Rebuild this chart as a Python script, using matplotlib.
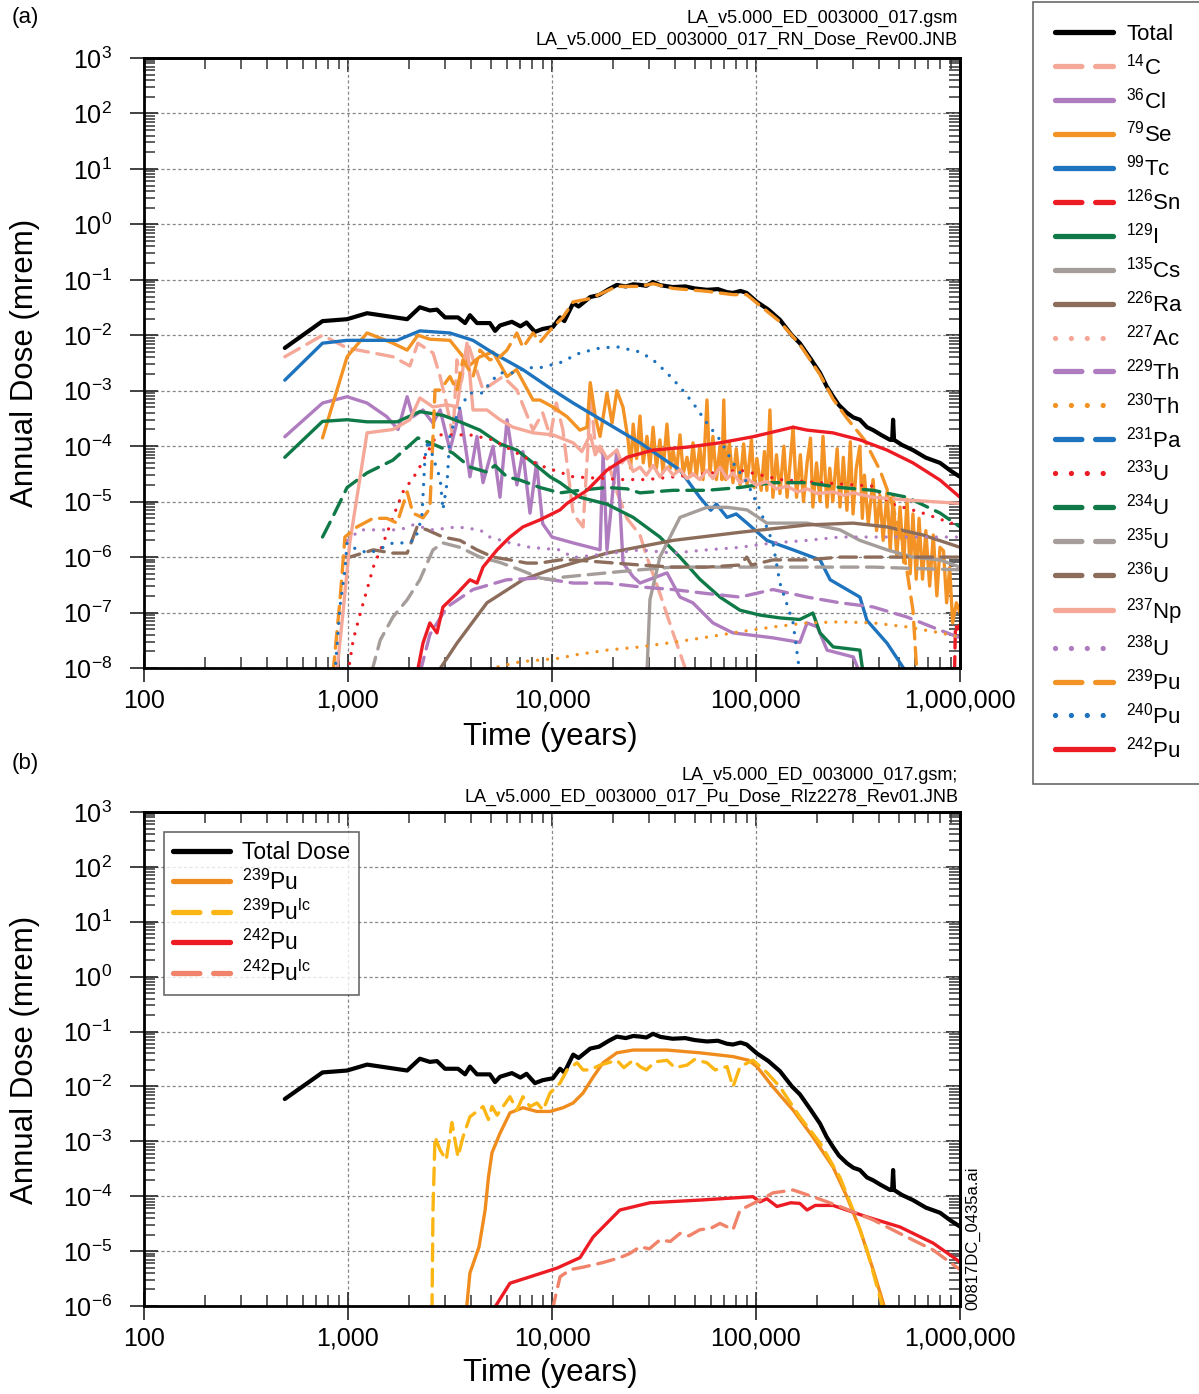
import numpy as np
import matplotlib
matplotlib.use('Agg')
import matplotlib.pyplot as plt
from matplotlib.ticker import LogLocator, NullFormatter, FuncFormatter

plt.rcParams['font.family'] = ['Liberation Sans', 'DejaVu Sans']
plt.rcParams['mathtext.fontset'] = 'custom'
plt.rcParams['mathtext.rm'] = 'Liberation Sans'
plt.rcParams['mathtext.it'] = 'Liberation Sans:italic'
plt.rcParams['mathtext.bf'] = 'Liberation Sans:bold'

# ---------------- dados (anos, mrem) ----------------
total = [(490, 5.9e-3), (750, 1.8e-2), (990, 1.95e-2), (1240, 2.5e-2), (1950, 1.95e-2), (2250, 3.2e-2),
         (2520, 2.8e-2), (2730, 2.9e-2), (2990, 2.1e-2), (3460, 2.1e-2), (3750, 1.66e-2), (3960, 2.3e-2),
         (4290, 1.66e-2), (4960, 1.66e-2), (5260, 1.2e-2), (5560, 1.5e-2), (6360, 1.75e-2), (7000, 1.45e-2),
         (7500, 1.7e-2), (8250, 1.15e-2), (9000, 1.3e-2), (10100, 1.41e-2), (10950, 2.1e-2), (11500, 1.8e-2),
         (12700, 3.8e-2), (13500, 3.3e-2), (15400, 4.9e-2), (17000, 5.3e-2), (19000, 6.8e-2), (20800, 8.1e-2),
         (23000, 7.6e-2), (25000, 8.3e-2), (27000, 8.1e-2), (29000, 7.8e-2), (31300, 9.1e-2), (34000, 8.0e-2),
         (39000, 7.4e-2), (45000, 7.6e-2), (50000, 7.0e-2), (57500, 6.6e-2), (65000, 6.8e-2), (72000, 6.0e-2),
         (77000, 5.8e-2), (84000, 6.3e-2), (90000, 5.8e-2), (101000, 4.0e-2), (115000, 2.9e-2), (131000, 1.9e-2),
         (150000, 1.0e-2), (164000, 7.2e-3), (185000, 3.8e-3), (206000, 2.1e-3), (222000, 1.2e-3),
         (239000, 7.8e-4), (255000, 5.5e-4), (279000, 4.0e-4), (300000, 3.3e-4), (323000, 3.0e-4),
         (350000, 2.2e-4), (375000, 1.95e-4), (410000, 1.6e-4), (454000, 1.3e-4), (465000, 1.3e-4),
         (470000, 3.0e-4), (475000, 1.3e-4), (520000, 1.05e-4), (588000, 8.5e-5), (680000, 6.2e-5),
         (798000, 5.0e-5), (900000, 3.6e-5), (1000000, 2.8e-5)]

c14 = [(490, 4.1e-3), (750, 1.0e-2), (990, 5.9e-3), (1660, 4.1e-3), (2010, 2.8e-3), (2200, 7.2e-3),
       (2610, 4.8e-3), (2830, 1.8e-3), (3060, 5.1e-4), (3270, 1.5e-4), (3420, 3.6e-3), (3600, 1.5e-3),
       (3870, 7.2e-3), (4590, 1.03e-3), (5750, 1.8e-3), (6730, 1.03e-3), (8070, 1.95e-4), (9000, 4e-4),
       (9800, 1.5e-4), (10500, 6e-4), (11300, 2e-4), (12700, 6e-6), (14200, 3.5e-6), (15000, 1e-4),
       (15400, 1.0e-3), (16300, 1e-4), (18600, 6e-5), (20800, 1.5e-5), (23300, 5e-6), (27000, 2.5e-6),
       (29200, 1.0e-6), (33800, 2.2e-7), (39200, 4.3e-8), (45900, 8e-9)]

cl36 = [(490, 1.48e-4), (750, 6.0e-4), (990, 7.8e-4), (1240, 6.0e-4), (1550, 3.4e-4), (1760, 2.0e-4),
        (1950, 7.8e-4), (2080, 3.4e-4), (2330, 4.5e-4), (2610, 2.6e-4), (2830, 4.5e-4), (3160, 8.5e-5),
        (3540, 4.5e-4), (3960, 2.8e-5), (4290, 1.5e-4), (4590, 2.2e-5), (5140, 1.0e-4), (5560, 1.2e-5),
        (6020, 3.0e-4), (6730, 2.0e-5), (7200, 8e-5), (7800, 6.2e-6), (8400, 5e-5), (9000, 4e-6),
        (10000, 2.3e-6), (12700, 1.8e-6), (17200, 1.35e-6), (17800, 7.5e-5), (18600, 1.35e-6),
        (20800, 8.5e-5), (22300, 7.8e-7), (25000, 4.4e-7), (27000, 3.4e-7), (36600, 5.2e-7), (42400, 1.9e-7),
        (49000, 1.5e-7), (61500, 6.5e-8), (77000, 4.3e-8), (121000, 3.5e-8), (164000, 2.9e-8),
        (178000, 6.5e-8), (200000, 5.5e-8), (223000, 2.1e-8), (300000, 1.58e-8), (323000, 8e-9)]

se79 = [(750, 1.41e-4), (990, 4.1e-3), (1240, 1.1e-2), (1660, 7.2e-3), (1950, 5.4e-3), (2200, 1.0e-2),
        (2520, 8.5e-3), (3160, 8.1e-3), (3960, 2.9e-3), (4430, 4.1e-3), (5140, 5.0e-3), (6015, 1.8e-3),
        (6700, 2.4e-3), (8070, 6.8e-4), (8735, 6.8e-4), (10100, 5.1e-4), (11850, 3.4e-4), (13700, 1.95e-4),
        (14850, 2.2e-4), (15400, 1.4e-3), (16300, 3.4e-4), (17200, 1.5e-4), (18600, 9.1e-4), (19700, 2.6e-4),
        (20800, 1.0e-3), (22300, 5.0e-4), (23600, 1.3e-4), (24300, 4e-5), (25000, 2.5e-4), (26000, 6e-5),
        (27000, 3.5e-4), (28000, 5e-5), (29200, 1.5e-4), (30200, 4.2e-5), (31300, 2.2e-4), (32500, 4e-5),
        (33800, 1.3e-4), (35000, 3.5e-5), (36600, 2.5e-4), (38000, 4e-5), (39200, 8.5e-5), (40800, 3.5e-5),
        (42400, 1.6e-4), (44000, 3.2e-5), (45900, 6.3e-5), (47500, 2.8e-5), (49100, 1.15e-4), (51000, 2.8e-5),
        (53000, 1.0e-4), (55000, 2.5e-5), (57500, 6.8e-4), (59500, 3e-5), (61500, 1.5e-4), (64000, 2.5e-5),
        (66600, 1e-4), (68000, 2.5e-5), (69500, 6.8e-4), (71000, 2.5e-5), (74000, 1.2e-4), (77100, 2.2e-5),
        (80000, 9e-5), (83500, 2e-5), (87000, 1.1e-4), (90400, 2e-5), (93000, 6e-5), (95000, 1.3e-4),
        (98000, 1.8e-5), (101000, 6e-5), (106000, 1.6e-5), (110000, 8e-5), (113000, 1.6e-5), (117000, 4.5e-4),
        (121000, 1.2e-5), (126000, 7e-5), (131000, 1.4e-5), (137000, 1e-4), (142000, 1.2e-5), (147000, 5e-5),
        (152000, 2.2e-4), (158000, 1.2e-5), (165000, 7e-5), (171000, 1e-5), (178000, 5e-5), (185000, 1.4e-4),
        (190000, 8e-6), (198000, 5e-5), (206000, 1.0e-5), (213000, 1.5e-4), (223000, 8e-6), (230000, 4e-5),
        (238000, 1.0e-5), (250000, 9e-5), (258000, 8e-6), (268000, 6.3e-5), (279000, 7e-6), (290000, 1.2e-4),
        (299000, 6e-6), (310000, 4e-5), (323000, 1.0e-4), (332000, 5e-6), (340000, 3e-5), (355000, 4e-6),
        (375000, 2.5e-5), (390000, 3e-6), (405000, 1.3e-5), (420000, 2e-6), (439000, 1.5e-5), (455000, 1.3e-6),
        (470000, 1.3e-5), (490000, 1e-6), (508000, 8e-6), (530000, 8e-7), (550000, 1.1e-5), (570000, 5e-7),
        (588000, 6e-6), (610000, 4e-7), (630000, 5e-6), (655000, 4e-7), (680000, 3e-6), (710000, 3e-7),
        (740000, 2.5e-6), (770000, 2e-7), (798000, 1.5e-6), (830000, 1.3e-6), (860000, 1.5e-7),
        (890000, 6.5e-7), (920000, 6.5e-8), (960000, 1.5e-7), (1000000, 1.0e-7)]

tc99 = [(490, 1.55e-3), (750, 7.2e-3), (990, 8.1e-3), (1740, 8.1e-3), (2250, 1.2e-2), (3160, 1.1e-2),
        (4100, 8.1e-3), (5140, 4.8e-3), (7200, 2.4e-3), (10100, 1.03e-3), (12700, 6.0e-4), (18600, 2.6e-4),
        (27000, 1.15e-4), (42400, 3.7e-5), (53000, 1.2e-5), (60000, 7e-6), (64000, 9e-6), (72100, 5.2e-6),
        (80000, 6e-6), (90400, 4.1e-6), (113000, 2.0e-6), (152000, 1.35e-6), (206000, 8.9e-7),
        (231000, 3.9e-7), (323000, 1.9e-7), (350000, 7.2e-8), (439000, 2.8e-8), (550000, 8e-9)]

sn126 = [(940000, 8e-9), (950000, 6e-8), (970000, 5e-8), (1000000, 6e-8)]

i129 = [(490, 6.3e-5), (750, 2.8e-4), (990, 3.0e-4), (1240, 2.75e-4), (1740, 2.75e-4), (2250, 4.2e-4),
        (2920, 3.6e-4), (3540, 2.75e-4), (4430, 1.95e-4), (5560, 1.1e-4), (6730, 8.5e-5), (8070, 5.0e-5),
        (9780, 2.8e-5), (10950, 2.2e-5), (13700, 1.2e-5), (18600, 9e-6), (25000, 5.2e-6), (33800, 2.3e-6),
        (42400, 1.0e-6), (53000, 4e-7), (66600, 1.9e-7), (83500, 1.1e-7), (104600, 9e-8), (131000, 8e-8),
        (164000, 7.5e-8), (190000, 9.8e-8), (206000, 4.3e-8), (239000, 2.4e-8), (323000, 2.1e-8),
        (335000, 8e-9)]

cs135 = [(29200, 8e-9), (30200, 1.7e-7), (33800, 1.0e-6), (42400, 5.2e-6), (57500, 7.9e-6), (72100, 7.9e-6),
         (90400, 7.1e-6), (113000, 4.1e-6), (178000, 4.1e-6), (258000, 3.1e-6), (323000, 2.0e-6),
         (439000, 1.35e-6), (588000, 1.0e-6), (798000, 8.9e-7), (1000000, 6.6e-7)]

ra226 = [(2730, 8e-9), (3420, 2.8e-8), (4800, 1.5e-7), (7200, 3.9e-7), (9780, 5.9e-7), (18600, 1.18e-6),
         (39200, 2.0e-6), (83500, 2.8e-6), (178000, 3.8e-6), (299000, 4.1e-6), (439000, 3.5e-6),
         (659000, 2.5e-6), (1000000, 1.5e-6)]

ac227 = []

th229 = [(2250, 8e-9), (2520, 4e-8), (3060, 1.26e-7), (4100, 2.6e-7), (6000, 3.9e-7), (8700, 4.2e-7),
         (12700, 3.4e-7), (18600, 3.4e-7), (27000, 2.9e-7), (39200, 2.6e-7), (57500, 2.2e-7), (83500, 1.9e-7),
         (121000, 2.6e-7), (178000, 1.9e-7), (258000, 1.5e-7), (375000, 1.26e-7), (550000, 8.3e-8),
         (800000, 4.8e-8), (1000000, 3.5e-8)]

th230 = [(5440, 1.05e-8), (7000, 1.3e-8), (10950, 1.5e-8), (12700, 1.7e-8), (18600, 2.1e-8), (27000, 2.4e-8),
         (39200, 2.9e-8), (57500, 3.6e-8), (83500, 4.5e-8), (121000, 5.5e-8), (178000, 6.5e-8),
         (258000, 6.8e-8), (375000, 6.5e-8), (550000, 5.5e-8), (800000, 4.3e-8), (1000000, 3.6e-8)]

pa231 = []

u233 = [(1000, 8e-9), (1060, 3.2e-8), (1150, 9.8e-8), (1240, 2.6e-7), (1330, 6.6e-7), (1490, 1.8e-6),
        (1660, 5.2e-6), (1860, 1.5e-5), (2180, 3.4e-5), (2440, 7.5e-5), (2730, 1.6e-4), (3160, 1.6e-4),
        (3960, 1.6e-4), (5140, 1.3e-4), (6730, 7.5e-5), (8735, 4.5e-5), (12700, 2.8e-5), (22300, 2.5e-5),
        (29200, 2.5e-5), (83500, 3.7e-5), (131000, 2.5e-5), (206000, 2.2e-5), (375000, 1.9e-5),
        (454000, 9.3e-6), (659000, 6.2e-6), (924000, 4.0e-6), (1000000, 3.5e-6)]

u234 = [(750, 2.3e-6), (840, 5.2e-6), (990, 1.8e-5), (1240, 3.3e-5), (1660, 5.6e-5), (2200, 1.41e-4),
        (2520, 1.15e-4), (2830, 9.6e-5), (3270, 7.5e-5), (3960, 4.2e-5), (4800, 3.4e-5), (5250, 4.5e-5),
        (6015, 2.8e-5), (6960, 2.45e-5), (8735, 1.8e-5), (10950, 1.44e-5), (13700, 1.6e-5), (18600, 1.8e-5),
        (23300, 1.7e-5), (27000, 1.44e-5), (39200, 1.6e-5), (57500, 1.6e-5), (83500, 1.8e-5),
        (121000, 2.2e-5), (178000, 2.2e-5), (258000, 1.8e-5), (375000, 1.6e-5), (550000, 1.2e-5),
        (800000, 6.2e-6), (1000000, 3.5e-6)]

u235 = [(1300, 8e-9), (1440, 3.2e-8), (1660, 8.3e-8), (1950, 1.7e-7), (2250, 3.9e-7), (2610, 1.35e-6),
        (2920, 1.8e-6), (3540, 1.5e-6), (4430, 1.0e-6), (5560, 8e-7), (6960, 5.9e-7), (8735, 4.2e-7),
        (10100, 3.9e-7), (10950, 4.3e-7), (18600, 5.2e-7), (27000, 5.9e-7), (39200, 6.6e-7), (83500, 6.6e-7),
        (178000, 6.6e-7), (375000, 6.6e-7), (550000, 6.3e-7), (1000000, 5.9e-7)]

u236 = [(950, 1.0e-6), (1020, 1.0e-6), (1330, 1.35e-6), (1660, 1.18e-6), (1950, 1.18e-6), (2180, 3.5e-6),
        (2440, 3.1e-6), (2920, 2.3e-6), (3540, 2.0e-6), (4290, 1.35e-6), (5140, 1.0e-6), (6220, 8.9e-7),
        (7530, 7.8e-7), (8735, 7.8e-7), (10950, 8.9e-7), (12700, 8.9e-7), (27000, 7.2e-7), (39200, 6.6e-7),
        (57500, 6.6e-7), (83500, 7.2e-7), (90000, 1.0e-6), (95000, 7.2e-7), (121000, 8.9e-7),
        (178000, 8.9e-7), (258000, 1.0e-6), (1000000, 1.0e-6)]

np237 = [(880, 8e-9), (945, 1.0e-7), (1020, 1.8e-6), (1240, 1.74e-4), (1660, 2.0e-4), (2010, 3.0e-4),
         (2250, 7.4e-4), (2610, 5.1e-4), (3060, 5.6e-4), (3420, 5.1e-4), (3540, 1.17e-3), (3830, 7.2e-3),
         (4100, 4.5e-4), (4800, 4.5e-4), (5560, 3.0e-4), (6440, 2.2e-4), (8070, 1.74e-4), (10100, 1.6e-4),
         (12700, 1.15e-4), (14000, 8e-5), (15400, 1.6e-4), (16300, 7e-5), (17200, 1.0e-4), (18600, 6e-5),
         (20800, 8.5e-5), (22000, 5e-5), (23300, 6.3e-5), (25000, 3.5e-5), (27000, 4.2e-5), (29000, 3e-5),
         (31300, 4.5e-5), (33800, 2.8e-5), (36600, 4.2e-5), (39200, 3e-5), (42400, 3.8e-5), (45900, 2.6e-5),
         (49000, 3.2e-5), (53000, 2.5e-5), (57500, 3.7e-5), (61500, 2.6e-5), (66600, 4.2e-5), (72100, 2.6e-5),
         (77100, 3.3e-5), (83500, 2.2e-5), (90400, 2.6e-5), (100000, 2e-5), (113000, 2.3e-5), (126000, 1.7e-5),
         (142000, 1.9e-5), (160000, 1.5e-5), (178000, 1.7e-5), (200000, 1.4e-5), (239000, 1.5e-5),
         (270000, 1.3e-5), (300000, 1.44e-5), (375000, 1.2e-5), (550000, 1.07e-5), (798000, 9.8e-6),
         (1000000, 9.3e-6)]

u238 = [(990, 2.0e-6), (1150, 3.1e-6), (1440, 3.1e-6), (1800, 3.1e-6), (2080, 3.8e-6), (2610, 3.1e-6),
        (3420, 3.5e-6), (4430, 3.1e-6), (4960, 2.3e-6), (6220, 1.8e-6), (7800, 1.5e-6), (10950, 1.35e-6),
        (12700, 9.8e-7), (27000, 1.35e-6), (39200, 1.18e-6), (57500, 1.35e-6), (83500, 1.5e-6),
        (121000, 1.8e-6), (178000, 2.0e-6), (258000, 2.3e-6), (375000, 2.3e-6), (1000000, 2.3e-6)]

pu239 = [(844, 8e-9), (914, 1.7e-7), (966, 2.3e-6), (1107, 3.5e-6), (1327, 5.0e-6), (1550, 5.0e-6),
         (1740, 4.1e-6), (1950, 1.5e-5), (2080, 6.2e-6), (2330, 5.1e-6), (2520, 7.5e-6), (2610, 1.48e-4),
         (2670, 1.03e-3), (2830, 1.03e-3), (3160, 1.8e-3), (3420, 1.0e-3), (3660, 3.6e-3), (4100, 1.8e-3),
         (4430, 5.4e-3), (4960, 3.6e-3), (5560, 4.1e-3), (6015, 5.4e-3), (6730, 1.1e-2), (7200, 6e-3),
         (8070, 1.1e-2), (8735, 7.5e-3), (10100, 1.41e-2), (11300, 2.1e-2), (12700, 4.0e-2), (15400, 4.6e-2),
         (20800, 7.6e-2), (27000, 7.6e-2), (31300, 8.5e-2), (39200, 7.0e-2), (57500, 6.2e-2), (77100, 5.4e-2),
         (90000, 5.4e-2), (101000, 3.8e-2), (131000, 1.75e-2), (164000, 6.8e-3), (206000, 1.95e-3),
         (239000, 7.0e-4), (279000, 3.2e-4), (340000, 1.3e-4), (405000, 3.7e-5), (454000, 1.2e-5),
         (508000, 2.8e-6), (550000, 5.5e-7), (588000, 1.1e-7), (615000, 8e-9)]

pu240 = [(863, 8e-9), (893, 4.3e-8), (914, 1.3e-7), (966, 5.9e-7), (989, 1.8e-6), (1107, 1.35e-6),
         (1280, 1.18e-6), (1490, 1.5e-6), (1660, 1.8e-6), (1860, 1.8e-6), (2130, 2.0e-6), (2300, 5.2e-6),
         (2330, 1.2e-5), (2385, 6.3e-5), (2470, 1.3e-4), (2610, 6.3e-5), (2830, 2.6e-5), (2920, 7.1e-6),
         (3060, 2.2e-5), (3160, 1.6e-4), (3540, 5.1e-4), (3960, 9.1e-4), (4590, 9.1e-4), (4960, 1.4e-3),
         (5560, 2.1e-3), (6440, 2.1e-3), (7530, 2.6e-3), (8735, 2.6e-3), (10950, 3.2e-3), (13700, 4.8e-3),
         (17200, 5.9e-3), (20800, 6.2e-3), (27000, 5.0e-3), (31300, 3.6e-3), (36600, 2.1e-3),
         (42400, 1.17e-3), (49100, 6.0e-4), (57500, 2.6e-4), (66600, 1.3e-4), (77100, 5.0e-5),
         (90400, 2.2e-5), (104600, 7.1e-6), (121000, 1.8e-6), (131000, 3.4e-7), (152000, 6.5e-8),
         (164000, 8e-9)]

pu242 = [(2180, 8e-9), (2330, 2.8e-8), (2520, 6.5e-8), (2730, 4.3e-8), (2920, 1.26e-7), (3420, 2.2e-7),
         (3960, 3.9e-7), (4290, 3.4e-7), (4590, 6.6e-7), (5380, 1.35e-6), (6220, 2.3e-6), (7200, 3.5e-6),
         (8735, 4.7e-6), (10950, 7.1e-6), (11850, 9.3e-6), (14850, 1.6e-5), (18600, 3.7e-5), (23300, 6.3e-5),
         (31300, 8.5e-5), (45900, 9.6e-5), (66600, 1.15e-4), (96600, 1.48e-4), (121000, 1.8e-4),
         (152000, 2.2e-4), (178000, 1.95e-4), (238000, 1.74e-4), (323000, 1.3e-4), (439000, 8.5e-5),
         (588000, 5.0e-5), (798000, 2.45e-5), (1000000, 1.2e-5)]

# painel (b)
b_pu239 = [(3800, 8e-7), (3960, 4.0e-6), (4390, 1.2e-5), (4700, 5.6e-5), (4880, 2.2e-4), (5080, 6.2e-4),
           (5560, 1.4e-3), (6220, 3.3e-3), (7200, 4.1e-3), (8440, 3.5e-3), (9780, 3.5e-3), (11330, 4.1e-3),
           (12700, 5.0e-3), (14200, 7.6e-3), (15900, 1.48e-2), (17800, 2.7e-2), (20800, 4.1e-2),
           (25000, 4.6e-2), (36600, 4.6e-2), (53000, 4.1e-2), (77100, 3.5e-2), (92000, 3.0e-2),
           (101000, 2.3e-2), (121000, 9.8e-3), (152000, 3.7e-3), (190000, 1.2e-3), (238500, 3.4e-4),
           (279000, 9.8e-5), (323000, 2.5e-5), (375000, 4.6e-6), (420000, 1.15e-6), (430000, 8e-7)]

b_pu239lc = [(2580, 8e-7), (2610, 5.6e-5), (2670, 1.2e-3), (2830, 6.9e-4), (3030, 4.6e-4), (3230, 2.2e-3),
             (3460, 5.2e-4), (3660, 1.2e-3), (3960, 2.8e-3), (4590, 4.3e-3), (4880, 2.5e-3), (5080, 4.3e-3),
             (5380, 3.0e-3), (6220, 6.5e-3), (6730, 3.7e-3), (7200, 6.5e-3), (7800, 4.3e-3), (8440, 5.0e-3),
             (9040, 3.7e-3), (9780, 7.6e-3), (10950, 1.15e-2), (11850, 2.0e-2), (13270, 2.7e-2),
             (14200, 2.0e-2), (15400, 2.0e-2), (17200, 2.45e-2), (20800, 3.0e-2), (22500, 2.2e-2),
             (25000, 3.0e-2), (27000, 2.3e-2), (29000, 2.0e-2), (32000, 2.8e-2), (36600, 3.0e-2),
             (40000, 2.2e-2), (45900, 2.45e-2), (50000, 3.1e-2), (57500, 2.7e-2), (63000, 2.0e-2),
             (72100, 2.3e-2), (77100, 9.8e-3), (83500, 2.3e-2), (96600, 3.0e-2), (113000, 1.8e-2),
             (131000, 9.8e-3), (164000, 2.8e-3), (206000, 9.3e-4), (258000, 2.2e-4), (299000, 5.6e-5),
             (350000, 1.05e-5), (412000, 1.15e-6), (420000, 8e-7)]

b_pu242 = [(5100, 8e-7), (6220, 2.6e-6), (7800, 3.4e-6), (10580, 4.9e-6), (13720, 7.6e-6), (15900, 1.8e-5),
           (21500, 5.6e-5), (30200, 7.6e-5), (53000, 8.5e-5), (96600, 9.8e-5), (104600, 7.9e-5),
           (113000, 9e-5), (126700, 6.5e-5), (148000, 7.6e-5), (164000, 7.4e-5), (178000, 5.6e-5),
           (195000, 6.8e-5), (238500, 6.8e-5), (350000, 4.2e-5), (508000, 2.75e-5), (738000, 1.4e-5),
           (924000, 7.8e-6), (1000000, 6.3e-6)]

b_pu242lc = [(10000, 8e-7), (10950, 3.4e-6), (12300, 4.6e-6), (14200, 5.1e-6), (17800, 6.2e-6),
             (21500, 7.6e-6), (24000, 9e-6), (27000, 1.2e-5), (30000, 1.1e-5), (33800, 1.6e-5),
             (38000, 1.5e-5), (42400, 2.1e-5), (47000, 1.9e-5), (53000, 2.45e-5), (60000, 2.6e-5),
             (66600, 3.2e-5), (77100, 2.45e-5), (83500, 5.6e-5), (104600, 8.5e-5), (121000, 1.15e-4),
             (152000, 1.3e-4), (190000, 9.8e-5), (258000, 6.5e-5), (375000, 3.7e-5), (550000, 1.8e-5),
             (738000, 1.05e-5), (1000000, 4.6e-6)]

# ---------------- estilos ----------------
ROSA = '#f5a898'
ROXO = '#b07cc0'
LARANJA = '#f39325'
AZUL = '#1e73be'
VERMELHO = '#ed1c24'
VERDE = '#0f7a48'
CINZA = '#a59d99'
MARROM = '#8c6d5c'

series_a = [
    ('Total', total, 'black', '-'),
    ('$^{14}$C', c14, ROSA, '--'),
    ('$^{36}$Cl', cl36, ROXO, '-'),
    ('$^{79}$Se', se79, LARANJA, '-'),
    ('$^{99}$Tc', tc99, AZUL, '-'),
    ('$^{126}$Sn', sn126, VERMELHO, '--'),
    ('$^{129}$I', i129, VERDE, '-'),
    ('$^{135}$Cs', cs135, CINZA, '-'),
    ('$^{226}$Ra', ra226, MARROM, '-'),
    ('$^{227}$Ac', ac227, ROSA, ':'),
    ('$^{229}$Th', th229, ROXO, '--'),
    ('$^{230}$Th', th230, LARANJA, ':'),
    ('$^{231}$Pa', pa231, AZUL, '--'),
    ('$^{233}$U', u233, VERMELHO, ':'),
    ('$^{234}$U', u234, VERDE, '--'),
    ('$^{235}$U', u235, CINZA, '--'),
    ('$^{236}$U', u236, MARROM, '--'),
    ('$^{237}$Np', np237, ROSA, '-'),
    ('$^{238}$U', u238, ROXO, ':'),
    ('$^{239}$Pu', pu239, LARANJA, '--'),
    ('$^{240}$Pu', pu240, AZUL, ':'),
    ('$^{242}$Pu', pu242, VERMELHO, '-'),
]

series_b = [
    ('Total Dose', total, 'black', '-'),
    ('$^{239}$Pu', b_pu239, '#f08c1e', '-'),
    ('$^{239}$Pu$^{\\mathrm{lc}}$', b_pu239lc, '#fbb614', '--'),
    ('$^{242}$Pu', b_pu242, '#ed1c24', '-'),
    ('$^{242}$Pu$^{\\mathrm{lc}}$', b_pu242lc, '#f0836a', '--'),
]


def estilo(ls):
    if ls == '--':
        return dict(linestyle=(0, (5.0, 2.6)), dash_capstyle='round')
    if ls == ':':
        return dict(linestyle=(0, (0.01, 3.0)), dash_capstyle='round')
    return dict(linestyle='-', solid_capstyle='round')


def prepara_eixo(ax, ymin, ymax):
    ax.set_xscale('log')
    ax.set_yscale('log')
    ax.set_xlim(100, 1e6)
    ax.set_ylim(ymin, ymax)
    ax.grid(True, which='major', color='#888888', linestyle=(0, (2.5, 2.0)), linewidth=0.9)
    ax.xaxis.set_major_locator(LogLocator(base=10, numticks=20))
    ax.xaxis.set_minor_locator(LogLocator(base=10, subs=np.arange(2, 10), numticks=20))
    ax.yaxis.set_major_locator(LogLocator(base=10, numticks=20))
    ax.yaxis.set_minor_locator(LogLocator(base=10, subs=np.arange(2, 10), numticks=20))
    ax.xaxis.set_minor_formatter(NullFormatter())
    ax.yaxis.set_minor_formatter(NullFormatter())
    ax.xaxis.set_major_formatter(FuncFormatter(lambda v, p: '{:,}'.format(int(round(v)))))
    ax.yaxis.set_major_formatter(FuncFormatter(lambda v, p: '$10^{%d}$' % int(round(np.log10(v)))))
    ax.tick_params(which='major', direction='inout', length=20, width=1.3, labelsize=18,
                   top=False, right=False, color='#333333')
    ax.tick_params(axis='y', which='major', pad=13)
    ax.tick_params(axis='x', which='major', pad=5)
    ax.tick_params(which='minor', direction='in', length=8, width=1.1, top=False, right=False,
                   color='#333333')
    for s in ax.spines.values():
        s.set_linewidth(2.0)
    # lados de cima e direita so com ticks para dentro
    sx = ax.secondary_xaxis('top')
    sy = ax.secondary_yaxis('right')
    for sec, eixo in ((sx, sx.xaxis), (sy, sy.yaxis)):
        eixo.set_major_locator(LogLocator(base=10, numticks=20))
        eixo.set_minor_locator(LogLocator(base=10, subs=np.arange(2, 10), numticks=20))
        eixo.set_major_formatter(NullFormatter())
        eixo.set_minor_formatter(NullFormatter())
        sec.tick_params(which='major', direction='in', length=10, width=1.3, color='#333333')
        sec.tick_params(which='minor', direction='in', length=8, width=1.1, color='#333333')
        for s in sec.spines.values():
            s.set_linewidth(2.0)


fig = plt.figure(figsize=(11.99, 13.94), dpi=100)
axa = fig.add_axes([144 / 1199, 1 - 668 / 1394, 816 / 1199, 610 / 1394])
axb = fig.add_axes([144 / 1199, 1 - 1306 / 1394, 816 / 1199, 494 / 1394])

prepara_eixo(axa, 1e-8, 1e3)
prepara_eixo(axb, 1e-6, 1e3)

for nome, dados, cor, ls in series_a:
    if dados:
        t, d = zip(*dados)
    else:
        t, d = [], []
    lw = 3.0 if cor == 'black' else 2.4
    axa.plot(t, d, color=cor, lw=lw, label=nome, **estilo(ls))

for nome, dados, cor, ls in series_b:
    t, d = zip(*dados)
    lw = 3.0 if cor == 'black' else 2.4
    axb.plot(t, d, color=cor, lw=lw, label=nome, **estilo(ls))

# legenda do painel (a), fora do grafico
hs, ls_ = axa.get_legend_handles_labels()
lega = fig.legend(hs, ls_, loc='upper left', bbox_to_anchor=(1033 / 1199, 1 - 2 / 1394),
                  fontsize=16, frameon=True, fancybox=False, edgecolor='#444444',
                  handlelength=2.6, handletextpad=0.6, labelspacing=0.36, borderpad=1.0,
                  borderaxespad=0)
lega.get_frame().set_linewidth(1.2)
for l in lega.get_lines():
    l.set_linewidth(3.8)

hs, ls_ = axb.get_legend_handles_labels()
legb = axb.legend(hs, ls_, loc='upper left', bbox_to_anchor=(20 / 816, 1 - 20 / 494),
                  fontsize=16.5, frameon=True, fancybox=False, edgecolor='#444444',
                  handlelength=2.5, handletextpad=0.5, labelspacing=0.22, borderpad=0.4,
                  borderaxespad=0)
legb.get_frame().set_linewidth(1.2)
for l in legb.get_lines():
    l.set_linewidth(3.8)

# textos
fig.text(12 / 1199, 1 - 18 / 1394, '(a)', fontsize=16, va='center', ha='left')
fig.text(12 / 1199, 1 - 763 / 1394, '(b)', fontsize=16, va='center', ha='left')
fig.text(958 / 1199, 1 - 18 / 1394, 'LA_v5.000_ED_003000_017.gsm', fontsize=13, ha='right', va='center')
fig.text(958 / 1199, 1 - 40 / 1394, 'LA_v5.000_ED_003000_017_RN_Dose_Rev00.JNB', fontsize=13,
         ha='right', va='center')
fig.text(958 / 1199, 1 - 775 / 1394, 'LA_v5.000_ED_003000_017.gsm;', fontsize=13, ha='right', va='center')
fig.text(958 / 1199, 1 - 797 / 1394, 'LA_v5.000_ED_003000_017_Pu_Dose_Rlz2278_Rev01.JNB', fontsize=13,
         ha='right', va='center')
fig.text(550 / 1199, 1 - 737 / 1394, 'Time (years)', fontsize=22.5, ha='center', va='center')
fig.text(550 / 1199, 1 - 1373 / 1394, 'Time (years)', fontsize=22.5, ha='center', va='center')
fig.text(25 / 1199, 1 - 363 / 1394, 'Annual Dose (mrem)', fontsize=22.5, rotation=90, ha='center',
         va='center')
fig.text(25 / 1199, 1 - 1060 / 1394, 'Annual Dose (mrem)', fontsize=22.5, rotation=90, ha='center',
         va='center')
fig.text(973 / 1199, 1 - 1238 / 1394, '00817DC_0435a.ai', fontsize=12, rotation=90, ha='center',
         va='center')

fig.savefig('out.png', dpi=100)
